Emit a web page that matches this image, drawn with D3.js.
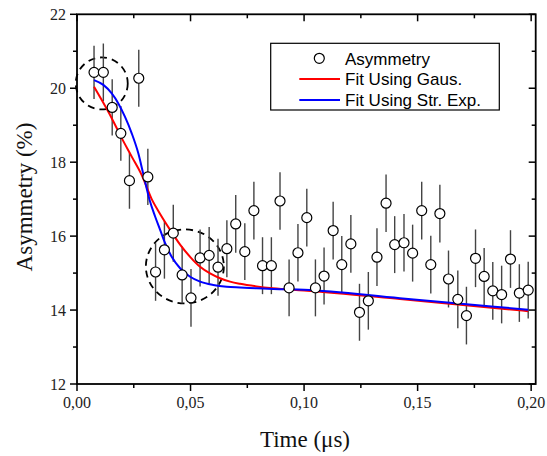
<!DOCTYPE html>
<html><head><meta charset="utf-8">
<script src="https://cdn.jsdelivr.net/npm/d3@7/dist/d3.min.js"></script>
<style>body{margin:0;background:#fff}svg{display:block}</style>
</head><body>
<svg id="c" width="547" height="456"></svg>
<script>
const times = [0.0075,0.0116,0.0155,0.0193,0.0231,0.0272,0.0312,0.0346,0.0385,0.0424,0.0463,0.0502,0.0542,0.0582,0.0621,0.0660,0.0699,0.0739,0.0779,0.0817,0.0856,0.0894,0.0934,0.0973,0.1012,0.1050,0.1088,0.1128,0.1166,0.1206,0.1244,0.1283,0.1321,0.1361,0.1399,0.1440,0.1478,0.1518,0.1558,0.1598,0.1636,0.1677,0.1715,0.1755,0.1793,0.1831,0.1870,0.1909,0.1948,0.1987];
const asym = [20.43,20.43,19.48,18.78,17.50,20.27,17.60,15.03,15.63,16.08,14.95,14.33,15.41,15.48,15.16,15.66,16.33,15.58,16.69,15.20,15.20,16.95,14.60,15.55,16.50,14.60,14.92,16.15,15.23,15.79,13.94,14.25,15.43,16.89,15.77,15.82,15.54,16.69,15.23,16.61,14.84,14.29,13.85,15.40,14.91,14.52,14.42,15.38,14.46,14.54];
const asymErr = [0.72,0.78,0.76,0.74,0.76,0.77,0.76,0.78,0.78,0.77,0.77,0.78,0.77,0.77,0.77,0.77,0.78,0.77,0.78,0.77,0.77,0.78,0.77,0.78,0.78,0.77,0.77,0.78,0.77,0.78,0.77,0.78,0.78,0.78,0.77,0.78,0.77,0.78,0.78,0.78,0.77,0.78,0.78,0.78,0.77,0.78,0.78,0.78,0.78,0.77];
const gausT = [0.0075,0.0109,0.0153,0.0197,0.0241,0.0285,0.0329,0.0366,0.0410,0.0454,0.0498,0.0542,0.0586,0.0630,0.0674,0.0718,0.0791,0.0863,0.1000,0.1422,0.1987];
const gausV = [20.04,19.68,19.19,18.65,18.15,17.65,17.00,16.60,16.17,15.77,15.44,15.17,14.99,14.86,14.77,14.71,14.64,14.59,14.53,14.30,13.97];
const strT = [0.0075,0.0116,0.0153,0.0182,0.0211,0.0241,0.0270,0.0292,0.0321,0.0344,0.0366,0.0388,0.0417,0.0454,0.0498,0.0542,0.0600,0.0659,0.0718,0.0791,0.0864,0.1000,0.1422,0.1987];
const strV = [20.22,20.09,19.86,19.59,19.23,18.78,18.24,17.68,16.95,16.53,16.17,15.81,15.44,15.13,14.90,14.77,14.68,14.63,14.61,14.59,14.57,14.55,14.32,14.01];
const xTicks = [0, 0.05, 0.10, 0.15, 0.20];
const xTickLabels = ["0,00","0,05","0,10","0,15","0,20"];
const yTicks = [12, 14, 16, 18, 20, 22];
const legendLabels = ["Asymmetry","Fit Using Gaus.","Fit Using Str. Exp."];
const seriesColors = ["#ff0000","#0000ff"];
const circleCenters = [[0.0109, 20.13],[0.0475, 15.18]];
const circleRadii = [[26,26],[39,37]];

const svg = d3.select("#c");
const L = 77, R = 535.7, T = 14.3, B = 384;
const x = d3.scaleLinear().domain([0, 0.202]).range([L, R]);
const y = d3.scaleLinear().domain([12, 22]).range([B, T]);
const serif = "'Liberation Serif','Times New Roman',serif";
const sans = "'Liberation Sans',Arial,sans-serif";

const minorX = d3.range(0, 0.2001, 0.025);
const minorY = d3.range(12, 22.01, 1);
const g = svg.append("g");
g.selectAll(".bx").data(minorX).join("line")
  .attr("x1", d => x(d)).attr("x2", d => x(d)).attr("y1", B)
  .attr("y2", (d,i) => B + (i % 2 === 0 ? 7 : 4)).attr("stroke","#000").attr("stroke-width",1.5);
g.selectAll(".tx").data(minorX).join("line")
  .attr("x1", d => x(d)).attr("x2", d => x(d)).attr("y1", T)
  .attr("y2", (d,i) => T + (i % 2 === 0 ? 7 : 4)).attr("stroke","#000").attr("stroke-width",1.5);
g.selectAll(".ly").data(minorY).join("line")
  .attr("y1", d => y(d)).attr("y2", d => y(d)).attr("x1", L)
  .attr("x2", (d,i) => L - (i % 2 === 0 ? 7 : 4)).attr("stroke","#000").attr("stroke-width",1.5);
g.selectAll(".ry").data(minorY).join("line")
  .attr("y1", d => y(d)).attr("y2", d => y(d)).attr("x1", R)
  .attr("x2", (d,i) => R - (i % 2 === 0 ? 7 : 4)).attr("stroke","#000").attr("stroke-width",1.5);

g.append("rect").attr("x", L).attr("y", T).attr("width", R - L).attr("height", B - T)
  .attr("fill","none").attr("stroke","#000").attr("stroke-width",1.8);

g.selectAll(".xl").data(xTicks).join("text")
  .attr("x", d => x(d)).attr("y", B + 24).attr("text-anchor","middle")
  .attr("font-family", serif).attr("font-size", 16).attr("fill","#222")
  .text((d,i) => xTickLabels[i]);
g.selectAll(".yl").data(yTicks).join("text")
  .attr("x", L - 11).attr("y", d => y(d)).attr("dy","0.35em").attr("text-anchor","end")
  .attr("font-family", serif).attr("font-size", 16).attr("fill","#222")
  .text(d => d);

svg.append("text").attr("x", 305).attr("y", 447).attr("text-anchor","middle")
  .attr("font-family", serif).attr("font-size", 23).attr("fill","#111").text("Time (μs)");
svg.append("text").attr("transform","translate(32,197) rotate(-90)").attr("text-anchor","middle")
  .attr("font-family", serif).attr("font-size", 23).attr("fill","#111").text("Asymmetry (%)");

svg.selectAll(".dc").data(circleCenters).join("ellipse")
  .attr("cx", d => x(d[0])).attr("cy", d => y(d[1]))
  .attr("rx", (d,i) => circleRadii[i][0]).attr("ry", (d,i) => circleRadii[i][1])
  .attr("fill","none").attr("stroke","#000").attr("stroke-width",1.8).attr("stroke-dasharray","7,5");

const pts = times.map((t,i) => ({t, v: asym[i], e: asymErr[i]}));
svg.selectAll(".eb").data(pts).join("line")
  .attr("x1", d => x(d.t)).attr("x2", d => x(d.t))
  .attr("y1", d => y(d.v + d.e)).attr("y2", d => y(d.v - d.e))
  .attr("stroke","#444").attr("stroke-width",1.4);

const line = d3.line().x(d => x(d[0])).y(d => y(d[1])).curve(d3.curveMonotoneX);
svg.append("path").datum(gausT.map((t,i) => [t, gausV[i]])).attr("d", line)
  .attr("fill","none").attr("stroke", seriesColors[0]).attr("stroke-width",2);
svg.append("path").datum(strT.map((t,i) => [t, strV[i]])).attr("d", line)
  .attr("fill","none").attr("stroke", seriesColors[1]).attr("stroke-width",2);

svg.selectAll(".pt").data(pts).join("circle")
  .attr("cx", d => x(d.t)).attr("cy", d => y(d.v)).attr("r", 5)
  .attr("fill","#fff").attr("stroke","#000").attr("stroke-width",1.2);

const lg = svg.append("g");
lg.append("rect").attr("x", 270.7).attr("y", 43.3).attr("width", 228.6).attr("height", 66.7)
  .attr("fill","#fff").attr("stroke","#000").attr("stroke-width",1.2);
lg.append("circle").attr("cx", 319.3).attr("cy", 58.3).attr("r", 5)
  .attr("fill","#fff").attr("stroke","#000").attr("stroke-width",1.2);
lg.append("line").attr("x1", 299.3).attr("x2", 340).attr("y1", 79).attr("y2", 79)
  .attr("stroke", seriesColors[0]).attr("stroke-width",2);
lg.append("line").attr("x1", 299.3).attr("x2", 340).attr("y1", 100).attr("y2", 100)
  .attr("stroke", seriesColors[1]).attr("stroke-width",2);
lg.selectAll(".lt").data(legendLabels).join("text")
  .attr("x", 345).attr("y", (d,i) => 58.5 + i * 20.8).attr("dy","0.36em")
  .attr("font-family", sans).attr("font-size", 17).attr("fill","#000").text(d => d);
</script>
</body></html>
